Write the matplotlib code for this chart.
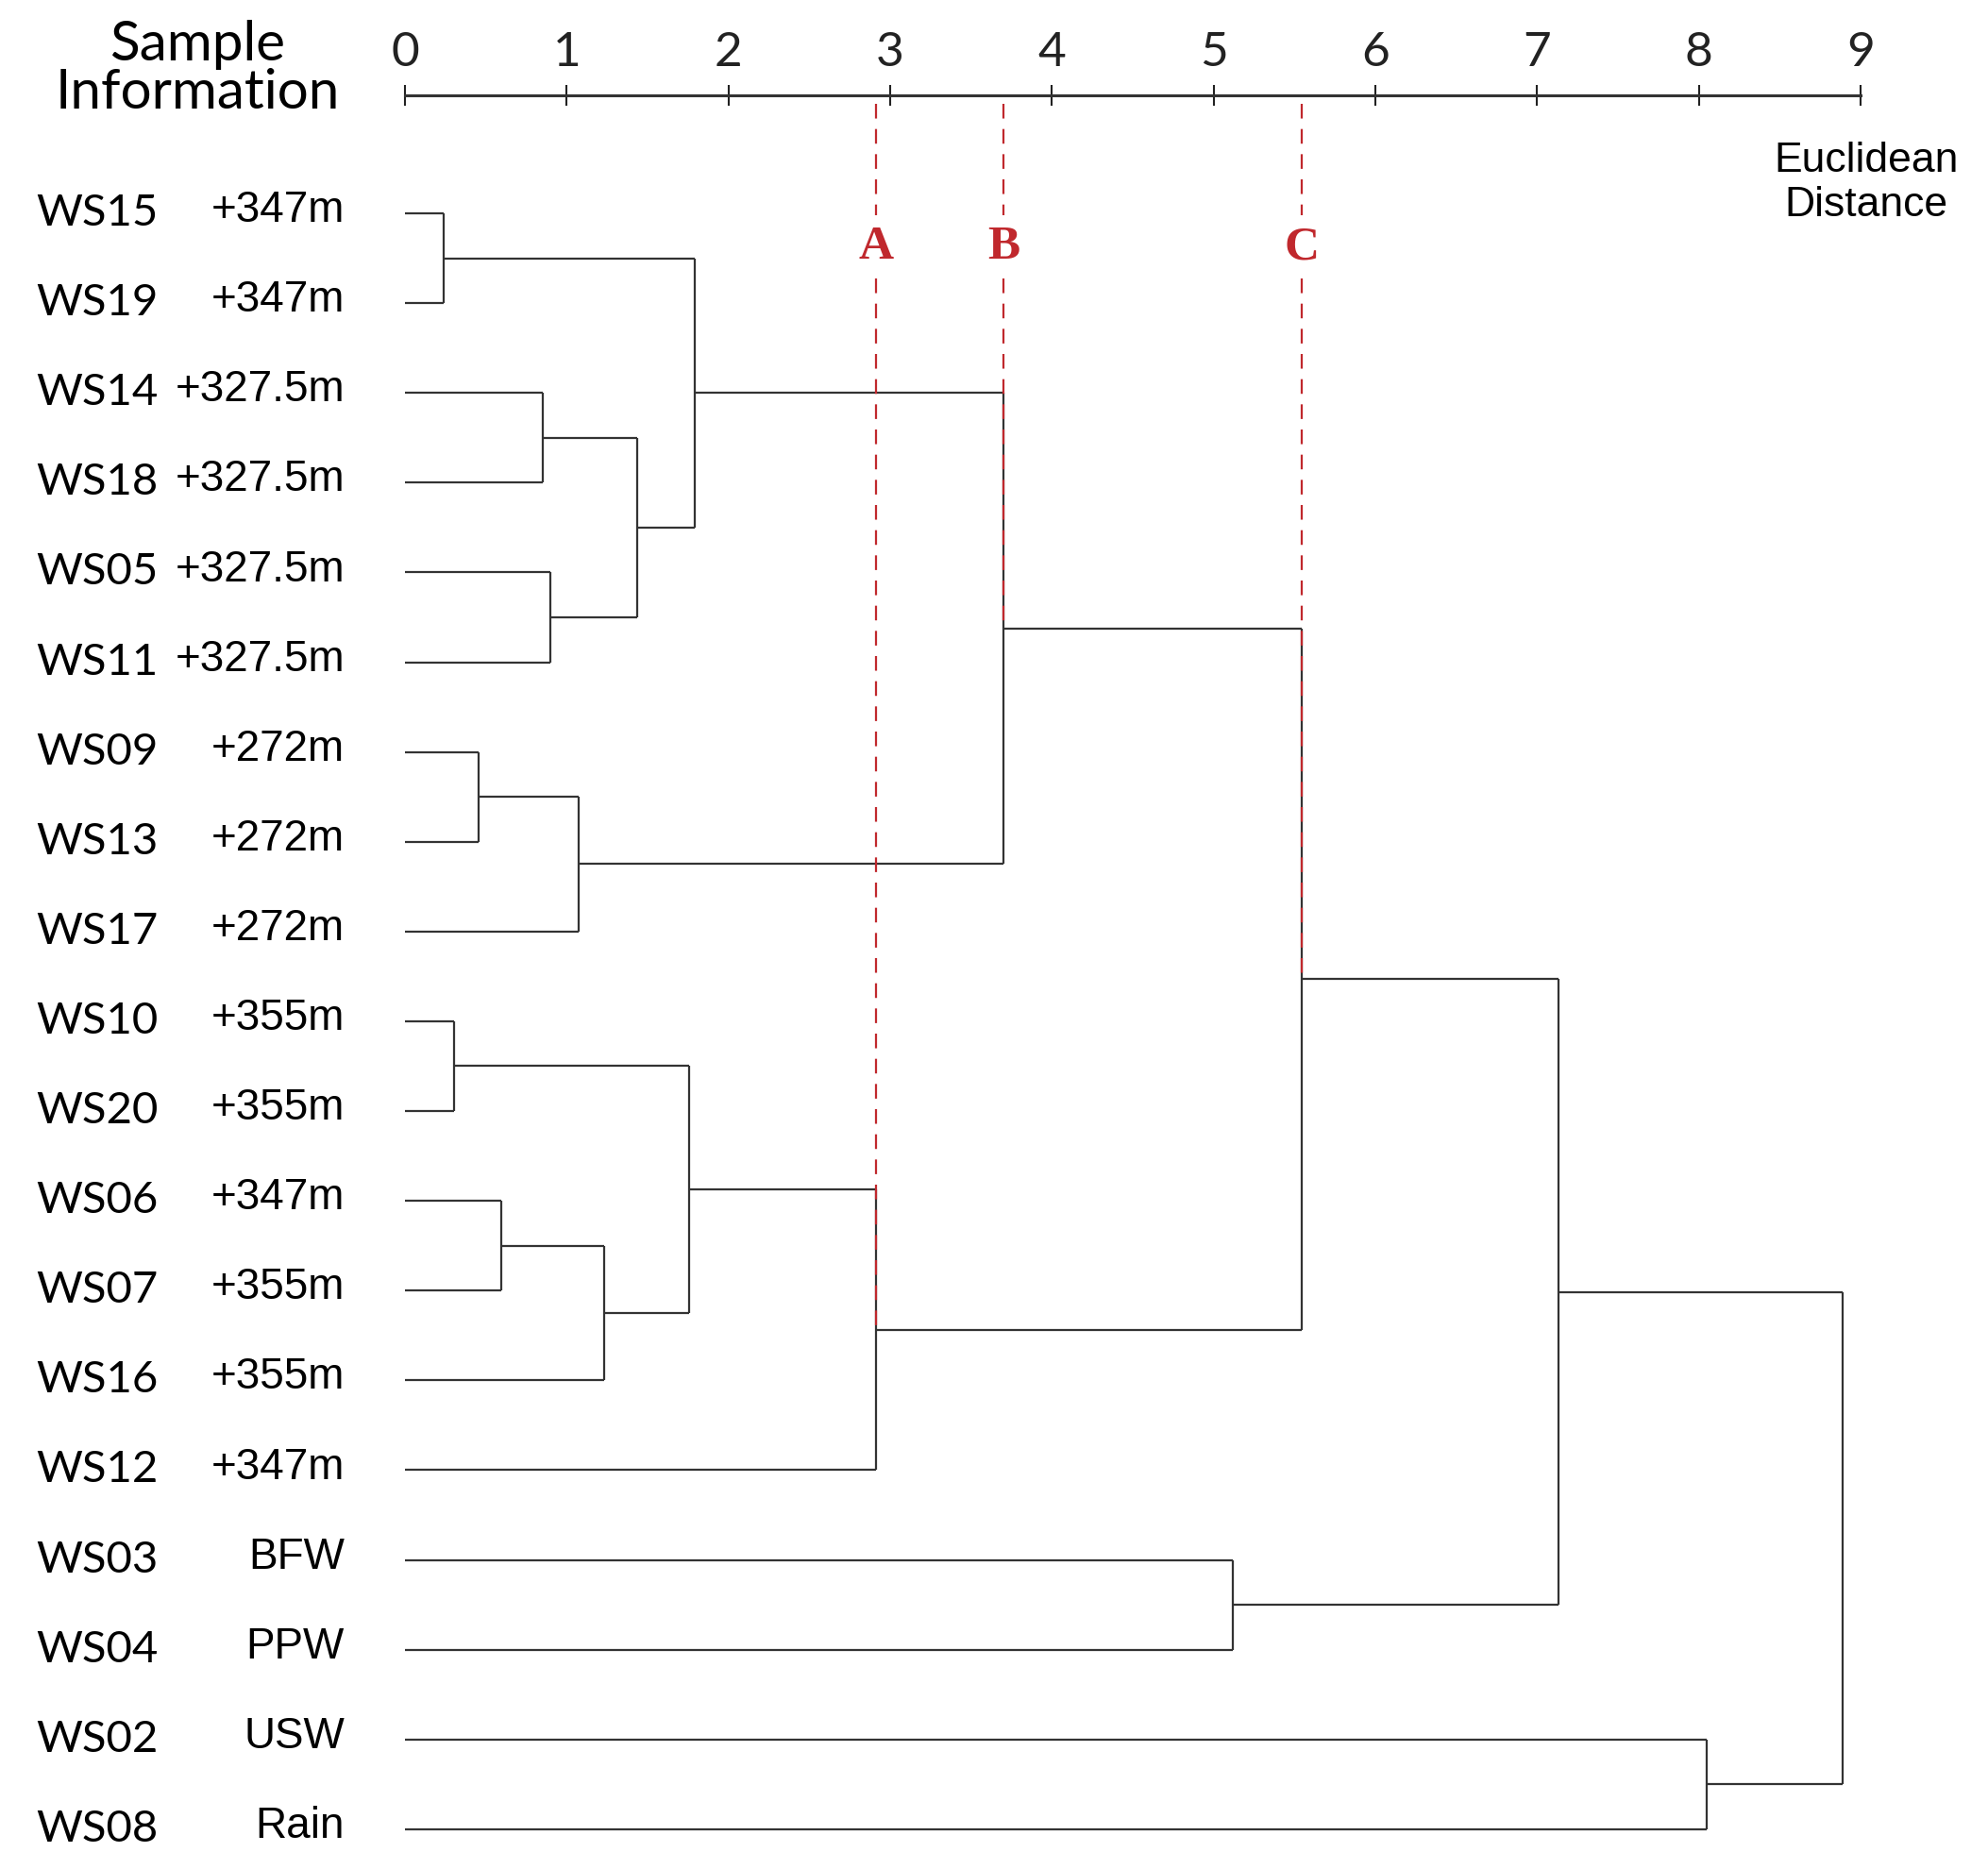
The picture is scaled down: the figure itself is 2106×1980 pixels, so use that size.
import matplotlib
matplotlib.use("Agg")
import matplotlib.pyplot as plt

# leaves, top to bottom
samples = ["WS15", "WS19", "WS14", "WS18", "WS05", "WS11", "WS09", "WS13", "WS17",
           "WS10", "WS20", "WS06", "WS07", "WS16", "WS12", "WS03", "WS04", "WS02", "WS08"]
info = ["+347m", "+347m", "+327.5m", "+327.5m", "+327.5m", "+327.5m", "+272m", "+272m", "+272m",
        "+355m", "+355m", "+347m", "+355m", "+355m", "+347m", "BFW", "PPW", "USW", "Rain"]

# merges: (left, right, distance); ints refer to earlier merges, strings to leaves
merges = [
    ("WS15", "WS19", 0.24),
    ("WS14", "WS18", 0.855),
    ("WS05", "WS11", 0.90),
    (1, 2, 1.435),
    (0, 3, 1.79),
    ("WS09", "WS13", 0.455),
    (5, "WS17", 1.075),
    (4, 6, 3.70),
    ("WS10", "WS20", 0.306),
    ("WS06", "WS07", 0.596),
    (9, "WS16", 1.23),
    (8, 10, 1.757),
    (11, "WS12", 2.91),
    (7, 12, 5.545),
    ("WS03", "WS04", 5.12),
    (13, 14, 7.13),
    ("WS02", "WS08", 8.05),
    (15, 16, 8.89),
]

# cut lines: label and the merge they meet
cut_labels = ["A", "B", "C"]
cut_merges = [12, 7, 13]

ticks = list(range(10))

W, H = 2106, 1980
fig = plt.figure(figsize=(W / 100, H / 100), dpi=100)
ax_top = 101
x0_px, x9_px = 429, 1971
unit = (x9_px - x0_px) / 9
row0, row_step = 226, 95.1
ax = fig.add_axes([x0_px / W, 0, (x9_px - x0_px) / W, 1 - ax_top / H])
ax.set_xlim(0, 9)
ax.set_ylim(18 + (H - row0 - 18 * row_step) / row_step, (ax_top - row0) / row_step)


def px_row(p):
    return (p - row0) / row_step


line_kw = dict(color="#333333", lw=1.6, solid_capstyle="butt")

pos = {}
for i, s in enumerate(samples):
    pos[s] = (0.0, i)


def node(n):
    return pos[n] if isinstance(n, str) else pos[("m", n)]


for k, (a, b, d) in enumerate(merges):
    xa, ya = node(a)
    xb, yb = node(b)
    ax.plot([xa, d], [ya, ya], **line_kw)
    ax.plot([xb, d], [yb, yb], **line_kw)
    ax.plot([d, d], [ya, yb], **line_kw)
    pos[("m", k)] = (d, (ya + yb) / 2)

# red cut lines
red = "#c0282d"
label_y = px_row(262)
for lab, m in zip(cut_labels, cut_merges):
    x, y = pos[("m", m)]
    ax.plot([x, x], [px_row(110), px_row(228)], color=red, lw=1.6, ls=(0, (7, 5)))
    ax.plot([x, x], [px_row(295), y], color=red, lw=1.6, ls=(0, (7, 5)))
    ax.text(x, label_y, lab, color=red, fontsize=37, family="Liberation Serif",
            weight="bold", ha="center", va="center")

# leaf labels
for i, (s, t) in enumerate(zip(samples, info)):
    ax.text((38 - x0_px) / unit, i, s, fontsize=34, family="Lato", ha="left", va="center",
            clip_on=False)
    ax.text((365 - x0_px) / unit, i - 0.03, t, fontsize=33, family="Liberation Sans",
            ha="right", va="center", clip_on=False)

# top scale
for sp in ["left", "right", "bottom"]:
    ax.spines[sp].set_visible(False)
ax.spines["top"].set_linewidth(2.2)
ax.spines["top"].set_color("#333333")
ax.set_yticks([])
ax.set_xticks(ticks)
ax.xaxis.tick_top()
ax.tick_params(axis="x", direction="inout", length=16, width=1.5, pad=8, labelsize=37,
               colors="#222222")
for lbl in ax.get_xticklabels():
    lbl.set_family("Lato")

ax.text((209 - x0_px) / unit, px_row(73), "Sample\nInformation", fontsize=42, family="Lato",
        ha="center", va="center", linespacing=0.95, clip_on=False)
ax.text((1977 - x0_px) / unit, px_row(194), "Euclidean\nDistance", fontsize=32,
        family="Liberation Sans", ha="center", va="center", linespacing=1.2, clip_on=False)

fig.savefig("out.png", dpi=100)
